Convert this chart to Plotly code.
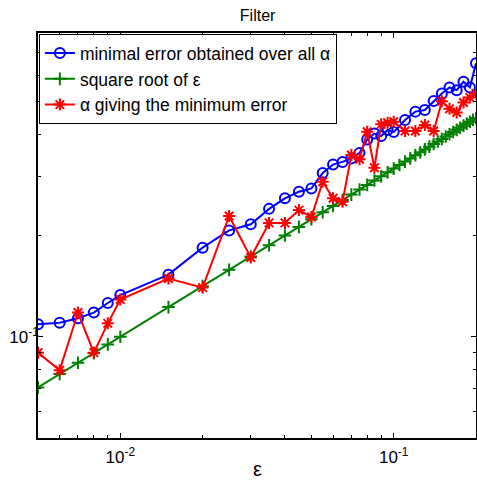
import plotly.graph_objects as go

# epsilon values for the two "error" series
eps = [0.005, 0.006, 0.007, 0.008, 0.009, 0.010,
       0.015, 0.020, 0.025, 0.030, 0.035, 0.040, 0.045, 0.050, 0.055, 0.060,
       0.065, 0.070, 0.075, 0.080, 0.085, 0.090, 0.095, 0.100,
       0.11, 0.12, 0.13, 0.14, 0.15, 0.16, 0.17, 0.18, 0.19, 0.20]

min_error = [0.109, 0.110, 0.1135, 0.118, 0.126, 0.133,
             0.153, 0.184, 0.207, 0.216, 0.240, 0.258, 0.270, 0.276, 0.307, 0.325,
             0.331, 0.339, 0.352, 0.386, 0.402, 0.395, 0.412, 0.406,
             0.441, 0.467, 0.472, 0.502, 0.529, 0.551, 0.541, 0.573, 0.551, 0.650]

alpha_min = [0.0897, 0.0795, 0.118, 0.0897, 0.1096, 0.129,
             0.149, 0.140, 0.2285, 0.172, 0.218, 0.218, 0.238, 0.227, 0.289, 0.258,
             0.252, 0.347, 0.337, 0.407, 0.318, 0.428, 0.433, 0.436,
             0.409, 0.409, 0.426, 0.409, 0.501, 0.476, 0.464, 0.497, 0.514, 0.529]

# epsilon values for the square-root curve
eps_sqrt = [0.005, 0.006, 0.007, 0.008, 0.009, 0.010,
            0.015, 0.020, 0.025, 0.030, 0.035, 0.040, 0.045, 0.050, 0.055, 0.060,
            0.065, 0.070, 0.075, 0.080, 0.085, 0.090, 0.095, 0.100, 0.105, 0.110,
            0.115, 0.120, 0.125, 0.130, 0.135, 0.140, 0.145, 0.150, 0.155, 0.160,
            0.165, 0.170, 0.175, 0.180, 0.185, 0.190, 0.195, 0.200]
sqrt_eps = [0.0707, 0.0775, 0.0837, 0.0894, 0.0949, 0.1,
            0.1225, 0.1414, 0.1581, 0.1732, 0.1871, 0.2, 0.2121, 0.2236, 0.2345, 0.2449,
            0.255, 0.2646, 0.2739, 0.2828, 0.2915, 0.3, 0.3082, 0.3162, 0.324, 0.3317,
            0.3391, 0.3464, 0.3536, 0.3606, 0.3674, 0.3742, 0.3808, 0.3873, 0.3937, 0.4,
            0.4062, 0.4123, 0.4183, 0.4243, 0.4301, 0.4359, 0.4416, 0.4472]

x_major = [0.01, 0.1]
x_major_text = ["10<sup>-2</sup>", "10<sup>-1</sup>"]
x_minor = [0.005, 0.006, 0.007, 0.008, 0.009, 0.02, 0.03, 0.04, 0.05, 0.06, 0.07, 0.08, 0.09, 0.2]
y_major = [0.1]
y_major_text = ["10<sup>-1</sup>"]
y_minor = [0.05, 0.06, 0.07, 0.08, 0.09, 0.2, 0.3, 0.4, 0.5, 0.6, 0.7, 0.8]

names = ["minimal error obtained over all α", "square root of ε", "α giving the minimum error"]

FONT = "Arial, Liberation Sans, Helvetica, sans-serif"

fig = go.Figure()
fig.add_trace(go.Scatter(
    x=eps, y=min_error, name=names[0], mode="lines+markers", legendgroup="a",
    line=dict(color="rgb(0,0,255)", width=2),
    marker=dict(symbol="circle-open", size=10, color="rgb(0,0,255)", line=dict(width=2))))
fig.add_trace(go.Scatter(
    x=eps_sqrt, y=sqrt_eps, name=names[1], mode="lines+markers", legendgroup="b",
    line=dict(color="rgb(0,128,0)", width=2),
    marker=dict(symbol="cross-thin-open", size=9, color="rgb(0,128,0)", line=dict(width=2, color="rgb(0,128,0)"))))
fig.add_trace(go.Scatter(
    x=eps, y=alpha_min, name=names[2], mode="lines+markers", legendgroup="c",
    line=dict(color="rgb(255,0,0)", width=2),
    marker=dict(symbol="asterisk-open", size=10, color="rgb(255,0,0)", line=dict(width=2, color="rgb(255,0,0)"))))

axis_common = dict(
    type="log", showgrid=False, zeroline=False, showline=True, linecolor="black",
    linewidth=1.5, mirror="allticks", ticks="inside", ticklen=5, tickcolor="black",
    tickfont=dict(family=FONT, size=17, color="black"), automargin=False,
)
fig.update_xaxes(**axis_common, range=[-2.30103, -0.69897], tickmode="array",
                 tickvals=x_major, ticktext=x_major_text, ticklabelstandoff=3,
                 minor=dict(tickmode="array", tickvals=x_minor, ticks="inside", ticklen=3, tickcolor="black"))
fig.update_yaxes(**axis_common, range=[-1.30103, -0.09691], tickmode="array",
                 tickvals=y_major, ticktext=y_major_text, ticklabelstandoff=-6,
                 minor=dict(tickmode="array", tickvals=y_minor, ticks="inside", ticklen=3, tickcolor="black"))

fig.add_annotation(text="ε", xref="paper", yref="paper", x=0.5, y=-0.076,
                   xanchor="center", yanchor="middle", showarrow=False,
                   font=dict(family=FONT, size=20, color="black"))

fig.update_layout(
    width=477, height=481,
    margin=dict(l=38, r=1, t=33, b=43, autoexpand=False),
    paper_bgcolor="white", plot_bgcolor="white",
    font=dict(family=FONT, color="black"),
    title=dict(text="Filter", x=0.54, xanchor="center", y=0.969, yanchor="middle",
               font=dict(family=FONT, size=16, color="black"), automargin=False),
    legend=dict(x=0.002, y=0.997, xanchor="left", yanchor="top",
                bgcolor="white", bordercolor="black", borderwidth=1,
                font=dict(family=FONT, size=17.5, color="black"),
                tracegroupgap=0, traceorder="grouped"),
    showlegend=True,
)

# remove the default page margin/scrollbars so the 477x481 figure fills the window
fig.write_html(
    "out.html",
    config={"responsive": False, "displayModeBar": False},
    post_script="document.body.style.margin='0';document.body.style.overflow='hidden';"
                "document.documentElement.style.overflow='hidden';",
)
